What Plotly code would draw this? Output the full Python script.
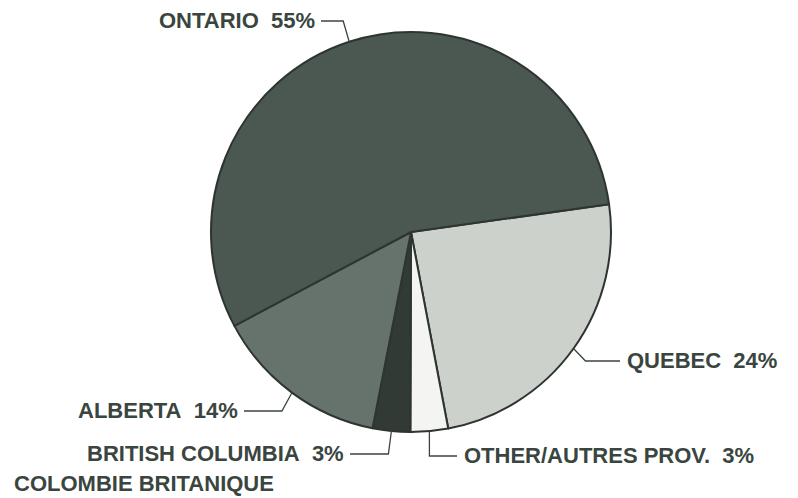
import math
import plotly.graph_objects as go

# ---- data ----
provinces = ["QUEBEC", "OTHER/AUTRES PROV.", "BRITISH COLUMBIA", "ALBERTA", "ONTARIO"]
shares = [24, 3, 3, 14, 55]
label_names = ["QUEBEC", "OTHER/AUTRES PROV.", "BRITISH COLUMBIA", "ALBERTA", "ONTARIO"]
label_pcts = ["24%", "3%", "3%", "14%", "55%"]
colors = ["#cdd1cc", "#f4f4f2", "#313a35", "#66736c", "#4b5851"]

# page offset: the browser's default body margin shifts the figure by 8px
OFF = 8
PAGE_W, PAGE_H = 798, 498
W, H = PAGE_W - OFF, PAGE_H - OFF


def fx(x):
    return x - OFF


def fy(y):
    return y - OFF


cx, cy, r = fx(411), fy(232), 200
rotation = 82
text_color = "#3a4540"

fig = go.Figure()
fig.add_trace(go.Pie(
    labels=provinces, values=shares, sort=False, direction="clockwise",
    rotation=rotation, textinfo="none", hoverinfo="label+percent",
    marker=dict(colors=colors, line=dict(color="#2e3531", width=2)),
    domain=dict(x=[(cx - r) / W, (cx + r) / W], y=[(H - cy - r) / H, (H - cy + r) / H]),
    showlegend=False,
))

# leader line layout in page pixels: (elbow dx, elbow y, line end x, text anchor)
leader = {
    "QUEBEC": (12, 361, 620, "left"),
    "OTHER/AUTRES PROV.": (0, 456, 457, "left"),
    "BRITISH COLUMBIA": (-3, 454, 350, "right"),
    "ALBERTA": (-10, 411, 244, "right"),
    "ONTARIO": (-6, 21, 321, "right"),
}

font = dict(family="Liberation Sans", size=22, color=text_color)
total = sum(shares)
start = rotation
shapes = []
annotations = []
for name, v, lname, pct in zip(provinces, shares, label_names, label_pcts):
    span = v / total * 360
    mid = math.radians(start + span / 2)
    start += span
    px, py = cx + r * math.sin(mid), cy - r * math.cos(mid)
    edx, ey, ex, anchor = leader[name]
    ey, ex = fy(ey), fx(ex)
    path = f"M {px:.1f},{py:.1f} L {px + edx:.1f},{ey} L {ex},{ey}"
    shapes.append(dict(type="path", path=path, xref="x", yref="y",
                       line=dict(color=text_color, width=1.3)))
    annotations.append(dict(x=ex + (5 if anchor == "left" else -4), y=ey - 1, xref="x", yref="y",
                            text=f"<b>{lname}\u00a0\u00a0{pct}</b>", showarrow=False,
                            xanchor=anchor, yanchor="middle", font=font))

annotations.append(dict(x=fx(12), y=fy(483), xref="x", yref="y", text="<b>COLOMBIE BRITANIQUE</b>",
                        showarrow=False, xanchor="left", yanchor="middle", font=font))

fig.update_layout(
    width=W, height=H, margin=dict(l=0, r=0, t=0, b=0),
    paper_bgcolor="white", plot_bgcolor="rgba(0,0,0,0)",
    xaxis=dict(range=[0, W], visible=False, fixedrange=True),
    yaxis=dict(range=[H, 0], visible=False, fixedrange=True),
    shapes=shapes, annotations=annotations,
)
fig.write_html("out.html")
